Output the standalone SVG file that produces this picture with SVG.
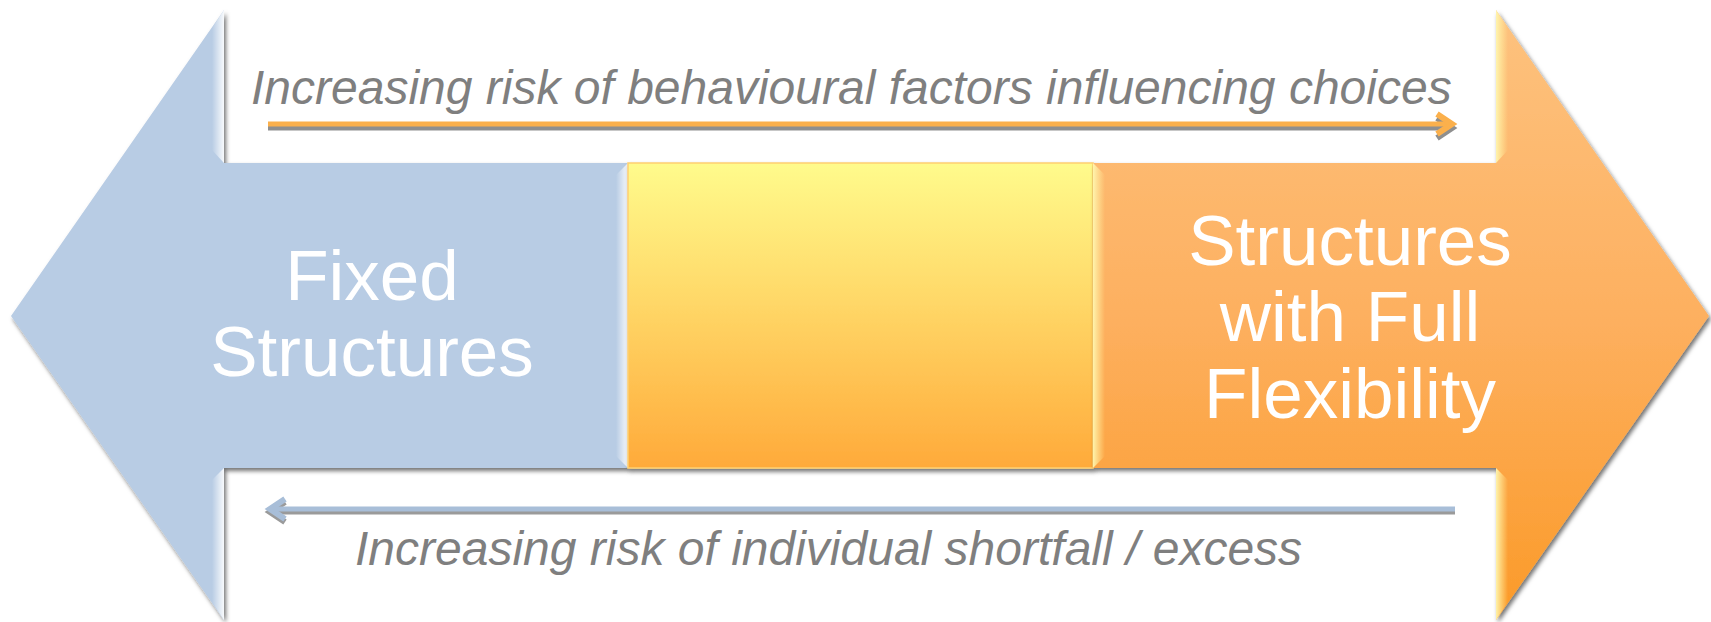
<svg xmlns="http://www.w3.org/2000/svg" width="1711" height="622" viewBox="0 0 1711 622">
  <defs>
    <linearGradient id="gMid" x1="0" y1="0" x2="0" y2="1">
      <stop offset="0" stop-color="#fffb8c"/>
      <stop offset="0.45" stop-color="#ffd868"/>
      <stop offset="1" stop-color="#ffaa3a"/>
    </linearGradient>
    <linearGradient id="gRight" x1="0" y1="0" x2="0" y2="1">
      <stop offset="0" stop-color="#fdc27e"/>
      <stop offset="0.5" stop-color="#fdb060"/>
      <stop offset="1" stop-color="#fb9a28"/>
    </linearGradient>
    <linearGradient id="hlBlue" x1="0" y1="0" x2="1" y2="0">
      <stop offset="0" stop-color="#ffffff" stop-opacity="0"/>
      <stop offset="1" stop-color="#ffffff" stop-opacity="0.9"/>
    </linearGradient>
    <linearGradient id="hlOrange" x1="1" y1="0" x2="0" y2="0">
      <stop offset="0" stop-color="#fff3a0" stop-opacity="0"/>
      <stop offset="1" stop-color="#fff7b0" stop-opacity="0.95"/>
    </linearGradient>
    <filter id="shadow" x="-5%" y="-5%" width="110%" height="115%">
      <feDropShadow dx="2" dy="3" stdDeviation="2" flood-color="#000" flood-opacity="0.55"/>
    </filter>
  </defs>
  <style>
    .cap { font-family: "Liberation Sans", Arial, sans-serif; font-style: italic; fill: #7f7f7f; font-size: 48px; }
    .lbl { font-family: "Liberation Sans", Arial, sans-serif; fill: #ffffff; font-size: 71px; text-anchor: middle; }
    .shaft { fill: none; stroke-width: 5; stroke-linecap: butt; }
    .chev { fill: none; stroke-width: 6; stroke-linejoin: miter; }
  </style>

  <!-- left block: fixed structures -->
  <g id="fixed">
    <path d="M11,316 L224,10 L224,163 L628,163 L628,468 L224,468 L224,620 Z" fill="#b8cce4" filter="url(#shadow)"/>
    <polygon points="212,28 224,10 224,163 212,150" fill="url(#hlBlue)"/>
    <polygon points="212,480 224,468 224,620 212,602" fill="url(#hlBlue)"/>
    <polygon points="616,175 628,163 628,468 616,456" fill="url(#hlBlue)"/>
    <text class="lbl" x="372" y="300">Fixed</text>
    <text class="lbl" x="372" y="376">Structures</text>
  </g>

  <!-- middle block -->
  <g id="middle">
    <rect x="628" y="163" width="465" height="305" fill="url(#gMid)" stroke="#ffd070" stroke-width="1.5" filter="url(#shadow)"/>
  </g>

  <!-- right block: full flexibility -->
  <g id="flexible">
    <path d="M1093,163 L1496,163 L1496,10 L1709,316 L1496,620 L1496,468 L1093,468 Z" fill="url(#gRight)" filter="url(#shadow)"/>
    <polygon points="1496,10 1508,28 1508,150 1496,163" fill="url(#hlOrange)"/>
    <polygon points="1496,468 1508,480 1508,602 1496,620" fill="url(#hlOrange)"/>
    <polygon points="1093,163 1105,175 1105,456 1093,468" fill="url(#hlOrange)"/>
    <text class="lbl" x="1350" y="265">Structures</text>
    <text class="lbl" x="1350" y="341">with Full</text>
    <text class="lbl" x="1350" y="418">Flexibility</text>
  </g>

  <!-- connectors -->
  <g id="connectors">
    <!-- top: rightward, with grey drop line -->
    <line class="shaft" x1="268" y1="128" x2="1448" y2="128" stroke="#8f8f8f"/>
    <polyline class="chev" points="1437,118 1452,128 1437,138" stroke="#8f8f8f"/>
    <line class="shaft" x1="268" y1="124" x2="1448" y2="124" stroke="#fbb04c"/>
    <polyline class="chev" points="1437,114 1452,124 1437,134" stroke="#fbb04c"/>
    <!-- bottom: leftward, with grey drop line -->
    <line class="shaft" x1="274" y1="512" x2="1455" y2="512" stroke="#9a9a9a"/>
    <polyline class="chev" points="285,502 270,512 285,522" stroke="#9a9a9a"/>
    <line class="shaft" x1="274" y1="509" x2="1455" y2="509" stroke="#a8bed8"/>
    <polyline class="chev" points="285,499 270,509 285,519" stroke="#a8bed8"/>
  </g>

  <!-- captions -->
  <g id="captions">
    <text class="cap" x="251" y="104">Increasing risk of behavioural factors influencing choices</text>
    <text class="cap" x="355" y="565">Increasing risk of individual shortfall / excess</text>
  </g>
</svg>
